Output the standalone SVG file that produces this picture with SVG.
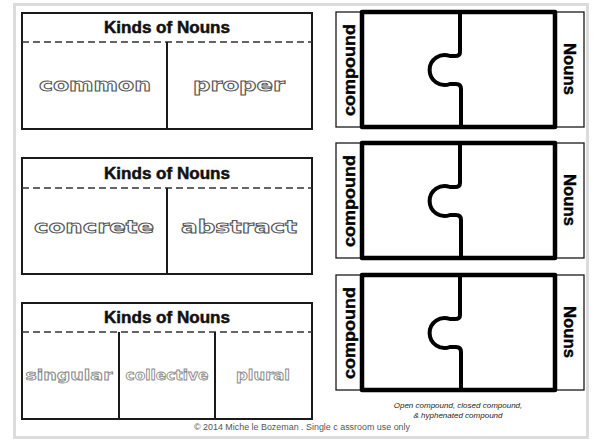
<svg xmlns="http://www.w3.org/2000/svg" width="596" height="440" viewBox="0 0 596 440">
<style>
.frame{fill:#fff;stroke:#dcdcdc;stroke-width:3}
.box{fill:#fff;stroke:#1a1a1a;stroke-width:2}
.div{stroke:#1a1a1a;stroke-width:2}
.dash{stroke:#333;stroke-width:1.6;stroke-dasharray:7 4}
.hdr{font-family:"Liberation Sans",Arial,sans-serif;font-weight:bold;font-size:16px;fill:#111;stroke:#111;stroke-width:0.5;text-anchor:middle}
.out{font-family:"DejaVu Sans",sans-serif;font-weight:bold;font-size:17px;fill:#fff;stroke:#555;stroke-width:0.9;text-anchor:middle}
.out2{font-family:"DejaVu Sans",sans-serif;font-weight:bold;font-size:14px;fill:#fff;stroke:#888;stroke-width:0.8;text-anchor:middle}
.lab{fill:#fff;stroke:#1a1a1a;stroke-width:1.3}
.pz{fill:#fff;stroke:#000;stroke-width:4.5;stroke-linejoin:round}
.pzl{fill:none;stroke:#000;stroke-width:4;stroke-linecap:round}
.side{font-family:"Liberation Sans",Arial,sans-serif;font-weight:bold;font-size:17px;fill:#000;stroke:#000;stroke-width:0.4;text-anchor:middle}
.cap{font-family:"Liberation Sans",Arial,sans-serif;font-style:italic;font-size:8px;fill:#222;text-anchor:middle}
.copy{font-family:"Liberation Sans",Arial,sans-serif;font-size:8.5px;fill:#555}
</style>
<rect class="frame" x="14.5" y="4.5" width="573" height="433"/>

<g id="kinds1">
<rect class="box" x="22" y="13" width="290" height="116"/>
<line class="dash" x1="22" y1="42" x2="312" y2="42"/>
<line class="div" x1="167" y1="42" x2="167" y2="129"/>
<text class="hdr" x="167" y="33" textLength="126" lengthAdjust="spacingAndGlyphs">Kinds of Nouns</text>
<text class="out" x="95" y="91" textLength="112" lengthAdjust="spacingAndGlyphs">common</text>
<text class="out" x="239" y="91" textLength="92" lengthAdjust="spacingAndGlyphs">proper</text>
</g>

<g id="kinds2">
<rect class="box" x="22" y="158" width="290" height="116"/>
<line class="dash" x1="22" y1="188" x2="312" y2="188"/>
<line class="div" x1="167" y1="188" x2="167" y2="274"/>
<text class="hdr" x="167" y="179" textLength="126" lengthAdjust="spacingAndGlyphs">Kinds of Nouns</text>
<text class="out" x="94" y="233" textLength="120" lengthAdjust="spacingAndGlyphs">concrete</text>
<text class="out" x="239" y="233" textLength="116" lengthAdjust="spacingAndGlyphs">abstract</text>
</g>

<g id="kinds3">
<rect class="box" x="22" y="303" width="290" height="116"/>
<line class="dash" x1="22" y1="332" x2="312" y2="332"/>
<line class="div" x1="119" y1="332" x2="119" y2="419"/>
<line class="div" x1="215" y1="332" x2="215" y2="419"/>
<text class="hdr" x="167" y="323" textLength="126" lengthAdjust="spacingAndGlyphs">Kinds of Nouns</text>
<text class="out2" x="69" y="380" textLength="87" lengthAdjust="spacingAndGlyphs">singular</text>
<text class="out2" x="167" y="380" textLength="83" lengthAdjust="spacingAndGlyphs">collective</text>
<text class="out2" x="263" y="380" textLength="54" lengthAdjust="spacingAndGlyphs">plural</text>
</g>

<defs>
<g id="puzzle">
<rect class="lab" x="336" y="0" width="26" height="115"/>
<rect class="lab" x="555" y="0" width="29" height="115"/>
<rect class="pz" x="362" y="0" width="193" height="115"/>
<path class="pzl" d="M460,0 V40 Q460,44 455,44 L450,44 A15,15 0 1 0 450,72 L456,72 Q461,72 461,77 V115"/>
<text class="side" transform="translate(355,58) rotate(-90)" textLength="92" lengthAdjust="spacingAndGlyphs">compound</text>
<text class="side" transform="translate(564,57) rotate(90)" textLength="52" lengthAdjust="spacingAndGlyphs">Nouns</text>
</g>
</defs>

<g id="puzzle1"><use href="#puzzle" transform="translate(0,12)"/></g>
<g id="puzzle2"><use href="#puzzle" transform="translate(0,143)"/></g>
<g id="puzzle3"><use href="#puzzle" transform="translate(0,275)"/></g>

<g id="caption">
<text class="cap" x="458" y="408">Open compound, closed compound,</text>
<text class="cap" x="458" y="418">&amp; hyphenated compound</text>
</g>
<text class="copy" x="194" y="430" textLength="216" lengthAdjust="spacingAndGlyphs">© 2014 Miche le Bozeman . Single c assroom use only</text>
</svg>
